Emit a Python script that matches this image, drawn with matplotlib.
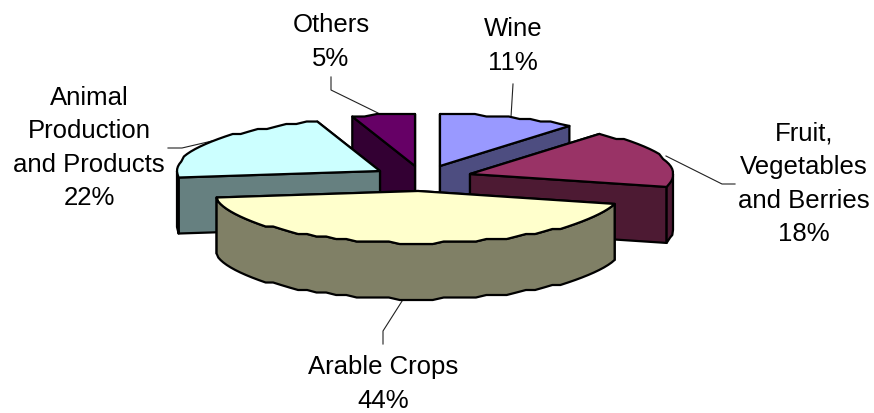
import matplotlib
matplotlib.use("Agg")
import matplotlib.pyplot as plt
import numpy as np
from matplotlib.patches import Polygon

plt.rcParams["font.family"] = ["Liberation Sans", "DejaVu Sans"]

# data, clockwise from twelve o'clock
names = ["Wine", "Fruit,\nVegetables\nand Berries", "Arable Crops",
         "Animal\nProduction\nand Products", "Others"]
shares = [11, 18, 44, 22, 5]

top_colors = ["#9999FF", "#993366", "#FFFFCC", "#CCFFFF", "#660066"]
side_colors = ["#4D4D80", "#4D1A33", "#808066", "#668080", "#330033"]

# where the tip of each exploded slice ends up
tips = [(440, 167), (470, 175), (418, 192), (380, 172), (415, 167)]
draw_order = [4, 0, 3, 1, 2]

RX = 203
RY = 52
DEPTH = 56
JAG = 2.5

# label centres and leader lines
label_pos = [(513, 46), (804, 184), (383, 384), (89, 148), (331, 42)]
leaders = [[(511, 118), (513, 85)],
           [(666, 157), (722, 185), (735, 185)],
           [(404, 299), (383, 332), (383, 345)],
           [(212, 142), (182, 149), (168, 149)],
           [(378, 114), (331, 91), (331, 78)]]


def rim(tip, a, b):
	t = np.radians(np.linspace(a, b, max(int(abs(b - a) / 3.0), 2)))
	x = tip[0] + RX * np.sin(t)
	y = tip[1] - RY * np.cos(t)
	# the original outline is a coarse polygon, so snap the curve to a rough grid
	y[1:-1] = np.round(y[1:-1] / JAG) * JAG
	return np.column_stack([x, y])


def face(ax, pts, color, z):
	ax.add_patch(Polygon(pts, closed=True, facecolor=color, edgecolor="black",
		linewidth=1.6, joinstyle="round", zorder=z))


def draw_slice(ax, i, a, b, z):
	tip = np.array(tips[i], dtype=float)
	down = np.array([0, DEPTH])
	# cut faces, the one further back first
	for ang in sorted([a, b], key=lambda v: -np.cos(np.radians(v)) * RY):
		p = rim(tip, ang, ang)[0]
		face(ax, [tip, p, p + down, tip + down], side_colors[i], z)
	# front part of the rim
	lo, hi = max(a, 90), min(b, 270)
	if lo < hi:
		edge = rim(tip, lo, hi)
		face(ax, np.vstack([edge, (edge + down)[::-1]]), side_colors[i], z)
	face(ax, np.vstack([[tip], rim(tip, a, b)]), top_colors[i], z)


def plot():
	fig = plt.figure(figsize=(8.74, 4.14), dpi=100)
	ax = fig.add_axes([0, 0, 1, 1])
	ax.set_xlim(0, 874)
	ax.set_ylim(414, 0)
	ax.axis("off")

	edges = np.cumsum([0] + shares) * 360.0 / sum(shares)
	for z, i in enumerate(draw_order):
		draw_slice(ax, i, edges[i], edges[i + 1], z + 2)

	for line in leaders:
		ax.plot([p[0] for p in line], [p[1] for p in line], color="#222222", lw=0.8, zorder=1)

	for i in range(len(names)):
		ax.text(label_pos[i][0], label_pos[i][1], "%s\n%d%%" % (names[i], shares[i]),
			ha="center", va="center", fontsize=18.5, color="black", linespacing=1.5)

	fig.savefig("out.png", dpi=100)


plot()
